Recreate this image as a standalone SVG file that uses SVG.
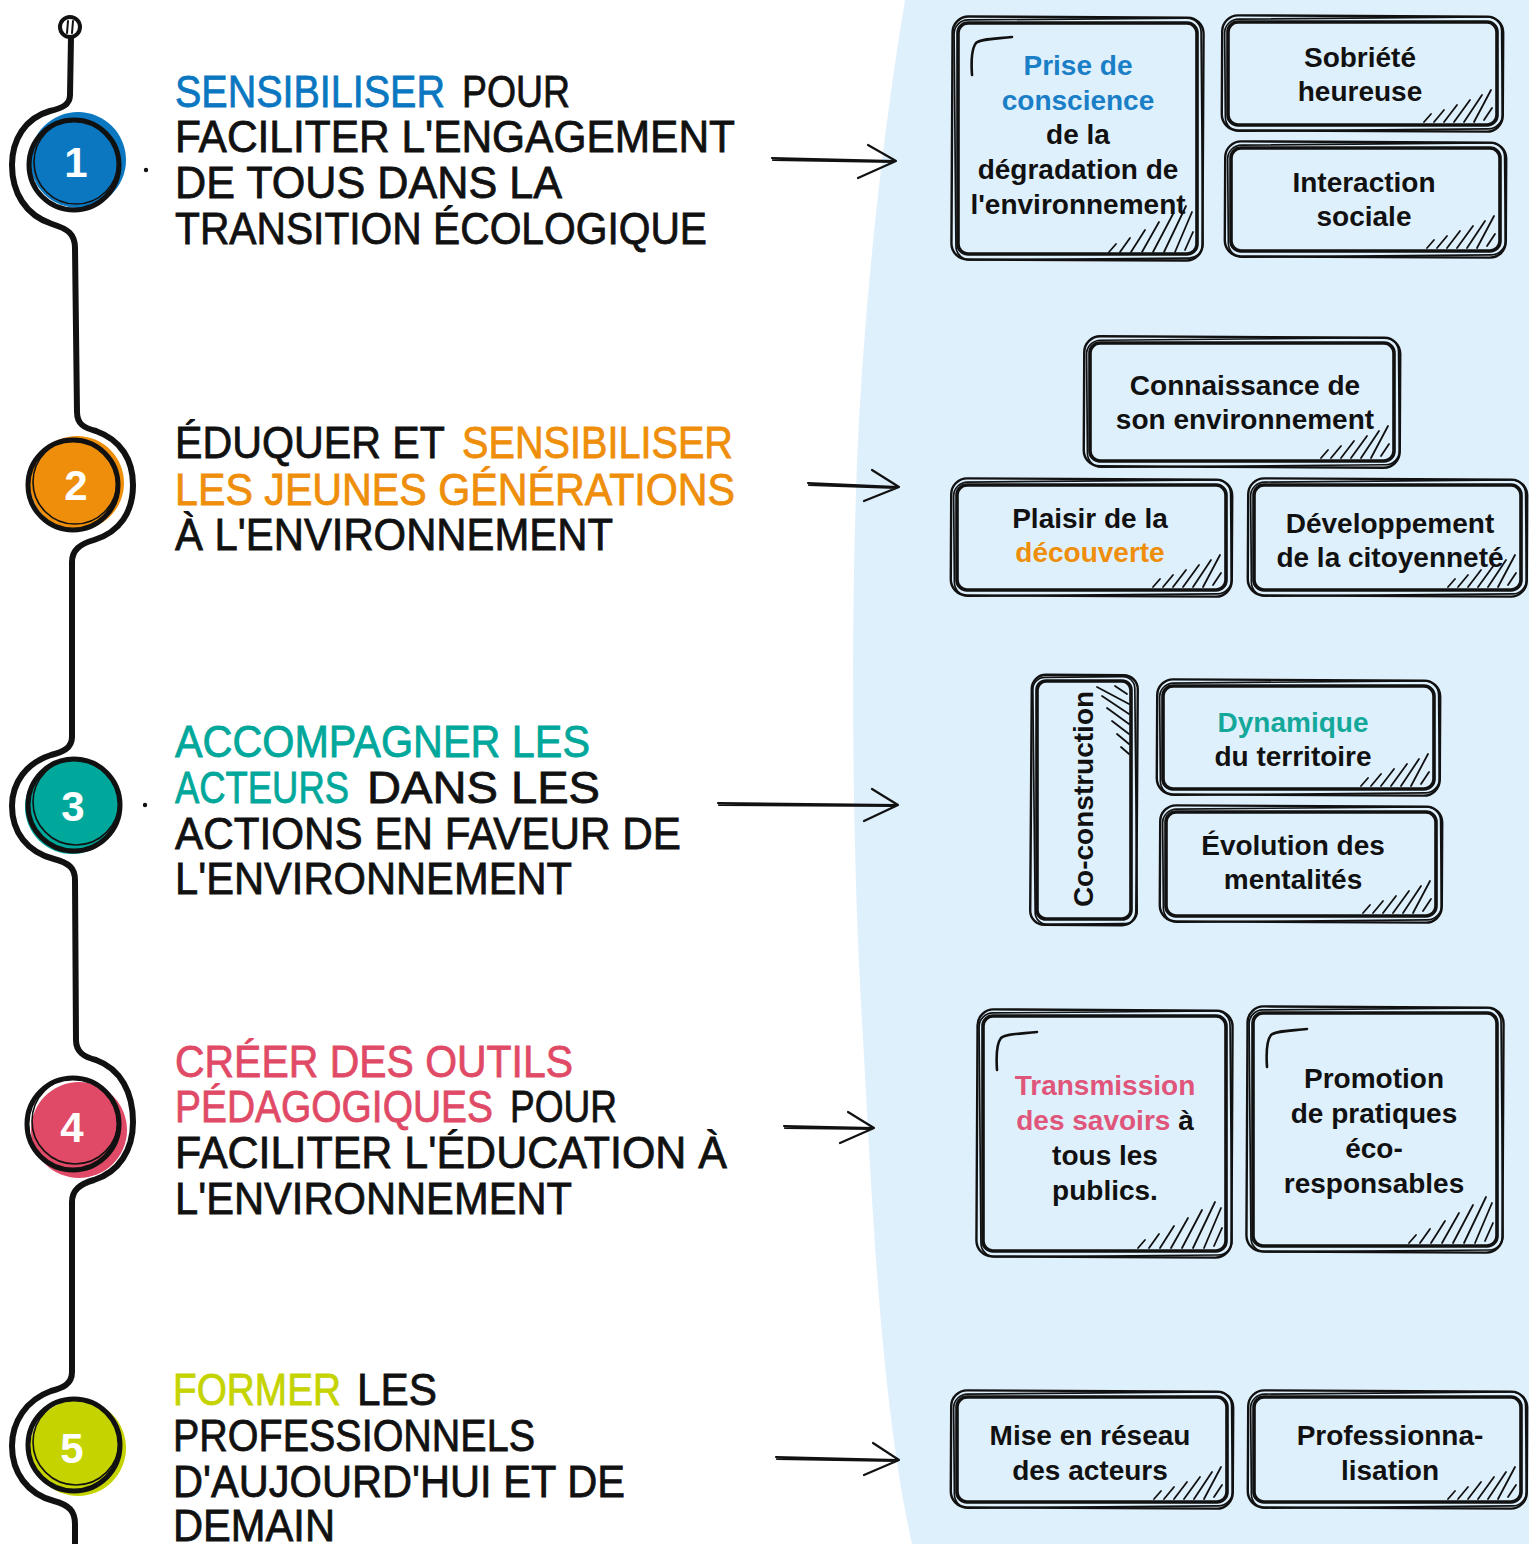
<svg xmlns="http://www.w3.org/2000/svg" width="1529" height="1544" viewBox="0 0 1529 1544">
<style>
.h{font-family:"Liberation Sans",Arial,sans-serif;font-size:40px;fill:#111;stroke:#111;stroke-width:0.7px;}
.cb{fill:#0A77C0;stroke:#0A77C0;}
.co{fill:#EE8E0A;stroke:#EE8E0A;}
.ct{fill:#00A79B;stroke:#00A79B;}
.cp{fill:#E04A66;stroke:#E04A66;}
.cl{fill:#C5D300;stroke:#C5D300;}
.t{font-family:"Liberation Sans",Arial,sans-serif;font-size:28px;font-weight:bold;fill:#111;text-anchor:middle;}
.n{font-family:"Liberation Sans",Arial,sans-serif;font-size:42px;font-weight:bold;fill:#fff;text-anchor:middle;}
.o{fill:none;stroke:#111;stroke-width:2.4;}
.o2{fill:none;stroke:#111;stroke-width:1.7;}
.i{fill:none;stroke:#111;stroke-width:3.6;}
.ha{fill:none;stroke:#111;stroke-width:1.8;stroke-linecap:round;}
.ar{fill:none;stroke:#111;stroke-width:2.2;stroke-linecap:round;stroke-linejoin:round;}
.ring{fill:none;stroke:#111;stroke-width:5;}
.ring2{fill:none;stroke:#111;stroke-width:1.6;}
.tl{fill:none;stroke:#111;stroke-width:2.6;stroke-linecap:round;}
</style>
<defs>
<path id="hs" class="ha" d="M-70 0 L-63 -8 M-60 0 L-50 -12 M-50 0 L-37 -17 M-40 0 L-24 -22 M-30 0 L-12 -27 M-20 0 L-3 -32 M-10 -2 L-2 -14"/>
<path id="ht" class="ha" d="M-85 0 L-78 -8 M-74 0 L-64 -14 M-63 0 L-49 -22 M-52 0 L-35 -30 M-41 0 L-21 -38 M-30 0 L-8 -46 M-19 0 L-2 -40 M-9 -2 L-1 -20"/>
<path id="br" class="tl" d="M0 45 C -1 30, 0 18, 4 13 C 8 9, 20 9, 40 7"/>
</defs>

<path id="background" d="M 905 0 C 885 120, 866 280, 858 440 C 850 620, 852 850, 862 1020 C 872 1200, 880 1400, 912 1544 L 1529 1544 L 1529 0 Z" fill="#DFF0FD"/>

<g id="timeline">
<path d="M 71 37 L 70 95 C 70 105, 62 108, 50 111 C 25 118, 12 140, 12 165 C 12 192, 25 215, 52 224 C 68 229, 75 234, 75 248 L 77 412 C 77 424, 84 428, 96 431 C 121 440, 133 460, 133 485 C 133 512, 120 532, 94 540 C 80 544, 72 550, 72 562 L 72 737 C 72 748, 63 752, 51 755 C 26 763, 12 783, 12 806 C 12 832, 27 852, 54 859 C 69 863, 75 868, 75 880 L 76 1040 C 76 1052, 84 1057, 96 1060 C 121 1069, 133 1093, 133 1122 C 133 1150, 119 1172, 94 1180 C 80 1184, 72 1190, 72 1202 L 72 1372 C 72 1384, 63 1388, 51 1391 C 26 1400, 12 1422, 12 1446 C 12 1472, 27 1494, 54 1501 C 69 1505, 75 1511, 75 1524 L 75 1550" fill="none" stroke="#111" stroke-width="6" stroke-linecap="round" stroke-linejoin="round"/>
<circle cx="70" cy="27" r="10" fill="#fff" stroke="#111" stroke-width="4"/>
<path d="M68 21 L67 33 M73 21 L72 33" stroke="#111" stroke-width="2" stroke-linecap="round"/>
<circle cx="146" cy="170" r="2.2" fill="#111"/>
<circle cx="145" cy="805" r="2.2" fill="#111"/>
</g>

<g id="step1">
<circle cx="78" cy="160" r="48" fill="#0A77C0"/>
<circle class="ring" cx="74" cy="165" r="45"/>
<circle class="ring2" cx="76" cy="162" r="42"/>
<text class="n" x="76" y="177">1</text>
<text class="h cb" x="175" y="107" transform="matrix(1 0 0 1.12 0 -12.84)" textLength="270" lengthAdjust="spacingAndGlyphs">SENSIBILISER</text>
<text class="h" x="462" y="107" transform="matrix(1 0 0 1.12 0 -12.84)" textLength="108" lengthAdjust="spacingAndGlyphs">POUR</text>
<text class="h" x="175" y="152" transform="matrix(1 0 0 1.12 0 -18.24)" textLength="560" lengthAdjust="spacingAndGlyphs">FACILITER L'ENGAGEMENT</text>
<text class="h" x="175" y="198" transform="matrix(1 0 0 1.12 0 -23.76)" textLength="387" lengthAdjust="spacingAndGlyphs">DE TOUS DANS LA</text>
<text class="h" x="175" y="244" transform="matrix(1 0 0 1.12 0 -29.28)" textLength="532" lengthAdjust="spacingAndGlyphs">TRANSITION ÉCOLOGIQUE</text>
</g>

<g id="step2">
<circle cx="77" cy="483" r="47" fill="#EE8E0A"/>
<circle class="ring" cx="73" cy="485" r="45"/>
<circle class="ring2" cx="75" cy="482" r="42"/>
<text class="n" x="76" y="500">2</text>
<text class="h" x="175" y="458" transform="matrix(1 0 0 1.12 0 -54.96)" textLength="270" lengthAdjust="spacingAndGlyphs">ÉDUQUER ET</text>
<text class="h co" x="462" y="458" transform="matrix(1 0 0 1.12 0 -54.96)" textLength="271" lengthAdjust="spacingAndGlyphs">SENSIBILISER</text>
<text class="h co" x="175" y="505" transform="matrix(1 0 0 1.12 0 -60.6)" textLength="560" lengthAdjust="spacingAndGlyphs">LES JEUNES GÉNÉRATIONS</text>
<text class="h" x="175" y="550" transform="matrix(1 0 0 1.12 0 -66)" textLength="438" lengthAdjust="spacingAndGlyphs">À L'ENVIRONNEMENT</text>
</g>

<g id="step3">
<circle cx="72" cy="807" r="47" fill="#00A79B"/>
<circle class="ring" cx="74" cy="805" r="46"/>
<circle class="ring2" cx="76" cy="802" r="43"/>
<text class="n" x="73" y="821">3</text>
<text class="h ct" x="175" y="757" transform="matrix(1 0 0 1.12 0 -90.84)" textLength="415" lengthAdjust="spacingAndGlyphs">ACCOMPAGNER LES</text>
<text class="h ct" x="175" y="803" transform="matrix(1 0 0 1.12 0 -96.36)" textLength="174" lengthAdjust="spacingAndGlyphs">ACTEURS</text>
<text class="h" x="367" y="803" transform="matrix(1 0 0 1.12 0 -96.36)" textLength="233" lengthAdjust="spacingAndGlyphs">DANS LES</text>
<text class="h" x="175" y="849" transform="matrix(1 0 0 1.12 0 -101.88)" textLength="506" lengthAdjust="spacingAndGlyphs">ACTIONS EN FAVEUR DE</text>
<text class="h" x="175" y="894" transform="matrix(1 0 0 1.12 0 -107.28)" textLength="397" lengthAdjust="spacingAndGlyphs">L'ENVIRONNEMENT</text>
</g>

<g id="step4">
<circle cx="79" cy="1130" r="48" fill="#E04A66"/>
<circle class="ring" cx="73" cy="1124" r="46"/>
<circle class="ring2" cx="75" cy="1121" r="43"/>
<text class="n" x="72" y="1142">4</text>
<text class="h cp" x="175" y="1077" transform="matrix(1 0 0 1.12 0 -129.24)" textLength="398" lengthAdjust="spacingAndGlyphs">CRÉER DES OUTILS</text>
<text class="h cp" x="175" y="1122" transform="matrix(1 0 0 1.12 0 -134.64)" textLength="318" lengthAdjust="spacingAndGlyphs">PÉDAGOGIQUES</text>
<text class="h" x="510" y="1122" transform="matrix(1 0 0 1.12 0 -134.64)" textLength="107" lengthAdjust="spacingAndGlyphs">POUR</text>
<text class="h" x="175" y="1168" transform="matrix(1 0 0 1.12 0 -140.16)" textLength="552" lengthAdjust="spacingAndGlyphs">FACILITER L'ÉDUCATION À</text>
<text class="h" x="175" y="1214" transform="matrix(1 0 0 1.12 0 -145.68)" textLength="397" lengthAdjust="spacingAndGlyphs">L'ENVIRONNEMENT</text>
</g>

<g id="step5">
<circle cx="78" cy="1448" r="48" fill="#C5D300"/>
<circle class="ring" cx="74" cy="1445" r="46"/>
<circle class="ring2" cx="76" cy="1442" r="43"/>
<text class="n" x="72" y="1463">5</text>
<text class="h cl" x="173" y="1405" transform="matrix(1 0 0 1.12 0 -168.6)" textLength="168" lengthAdjust="spacingAndGlyphs">FORMER</text>
<text class="h" x="357" y="1405" transform="matrix(1 0 0 1.12 0 -168.6)" textLength="80" lengthAdjust="spacingAndGlyphs">LES</text>
<text class="h" x="173" y="1451" transform="matrix(1 0 0 1.12 0 -174.12)" textLength="362" lengthAdjust="spacingAndGlyphs">PROFESSIONNELS</text>
<text class="h" x="173" y="1497" transform="matrix(1 0 0 1.12 0 -179.64)" textLength="452" lengthAdjust="spacingAndGlyphs">D'AUJOURD'HUI ET DE</text>
<text class="h" x="173" y="1541" transform="matrix(1 0 0 1.12 0 -184.92)" textLength="162" lengthAdjust="spacingAndGlyphs">DEMAIN</text>
</g>

<g id="connectors">
<path class="ar" d="M772 158 L895 161 M773 160 L893 162 M868 145 L896 161 L858 178"/>
<path class="ar" d="M808 483 L898 487 M809 485 L896 488 M872 470 L899 487 L864 501"/>
<path class="ar" d="M718 803 L897 805 M719 805 L895 806 M872 789 L898 805 L864 821"/>
<path class="ar" d="M784 1126 L873 1128 M785 1128 L871 1129 M848 1112 L874 1128 L840 1143"/>
<path class="ar" d="M776 1457 L898 1460 M777 1459 L896 1461 M873 1443 L899 1460 L864 1475"/>
</g>

<g id="box-prise">
<rect class="o" x="952" y="17" width="251" height="243" rx="16" transform="rotate(0.3 1077 138)"/>
<rect class="o2" x="955" y="19" width="247" height="240" rx="14" transform="rotate(-0.5 1077 138)"/>
<rect class="i" x="958" y="23" width="239" height="231" rx="10"/>
<use href="#ht" x="1194" y="252"/>
<use href="#br" x="972" y="30"/>
<text class="t" x="1078" y="75" style="fill:#1A7FC6">Prise de</text>
<text class="t" x="1078" y="110" style="fill:#1A7FC6">conscience</text>
<text class="t" x="1078" y="144">de la</text>
<text class="t" x="1078" y="179">dégradation de</text>
<text class="t" x="1078" y="214">l'environnement</text>
</g>

<g id="box-sobriete">
<rect class="o" x="1222" y="16" width="281" height="115" rx="16" transform="rotate(0.3 1362 73)"/>
<rect class="o2" x="1225" y="18" width="277" height="112" rx="14" transform="rotate(-0.5 1362 73)"/>
<rect class="i" x="1228" y="22" width="269" height="103" rx="10"/>
<use href="#hs" x="1494" y="122"/>
<text class="t" x="1360" y="67">Sobriété</text>
<text class="t" x="1360" y="101">heureuse</text>
</g>

<g id="box-interaction">
<rect class="o" x="1225" y="142" width="281" height="115" rx="16" transform="rotate(0.3 1365 199)"/>
<rect class="o2" x="1228" y="144" width="277" height="112" rx="14" transform="rotate(-0.5 1365 199)"/>
<rect class="i" x="1231" y="148" width="269" height="103" rx="10"/>
<use href="#hs" x="1497" y="248"/>
<text class="t" x="1364" y="192">Interaction</text>
<text class="t" x="1364" y="226">sociale</text>
</g>

<g id="box-connaissance">
<rect class="o" x="1084" y="337" width="316" height="130" rx="16" transform="rotate(0.3 1242 402)"/>
<rect class="o2" x="1087" y="339" width="312" height="127" rx="14" transform="rotate(-0.5 1242 402)"/>
<rect class="i" x="1090" y="343" width="304" height="118" rx="10"/>
<use href="#hs" x="1391" y="458"/>
<text class="t" x="1245" y="395">Connaissance de</text>
<text class="t" x="1245" y="429">son environnement</text>
</g>

<g id="box-plaisir">
<rect class="o" x="951" y="479" width="281" height="117" rx="16" transform="rotate(0.3 1091 537)"/>
<rect class="o2" x="954" y="481" width="277" height="114" rx="14" transform="rotate(-0.5 1091 537)"/>
<rect class="i" x="957" y="485" width="269" height="105" rx="10"/>
<use href="#hs" x="1223" y="587"/>
<text class="t" x="1090" y="528">Plaisir de la</text>
<text class="t" x="1090" y="562" style="fill:#EE8E0A">découverte</text>
</g>

<g id="box-developpement">
<rect class="o" x="1248" y="479" width="279" height="117" rx="16" transform="rotate(0.3 1388 537)"/>
<rect class="o2" x="1251" y="481" width="275" height="114" rx="14" transform="rotate(-0.5 1388 537)"/>
<rect class="i" x="1254" y="485" width="267" height="105" rx="10"/>
<use href="#hs" x="1518" y="587"/>
<text class="t" x="1390" y="533">Développement</text>
<text class="t" x="1390" y="567">de la citoyenneté</text>
</g>

<g id="box-coconstruction">
<rect class="o" x="1031" y="675" width="106" height="250" rx="14" transform="rotate(0.4 1084 800)"/>
<rect class="o2" x="1034" y="677" width="102" height="247" rx="12" transform="rotate(-0.6 1084 800)"/>
<rect class="i" x="1037" y="681" width="94" height="238" rx="9"/>
<use href="#hs" transform="translate(1129 684) rotate(-90)"/>
<text class="t" transform="translate(1083 799) rotate(-90)" x="0" y="10">Co-construction</text>
</g>

<g id="box-dynamique">
<rect class="o" x="1157" y="680" width="283" height="115" rx="16" transform="rotate(0.3 1298 737)"/>
<rect class="o2" x="1160" y="682" width="279" height="112" rx="14" transform="rotate(-0.5 1298 737)"/>
<rect class="i" x="1163" y="686" width="271" height="103" rx="10"/>
<use href="#hs" x="1431" y="786"/>
<text class="t" x="1293" y="732" style="fill:#13A89A">Dynamique</text>
<text class="t" x="1293" y="766">du territoire</text>
</g>

<g id="box-evolution">
<rect class="o" x="1160" y="806" width="282" height="116" rx="16" transform="rotate(0.3 1301 864)"/>
<rect class="o2" x="1163" y="808" width="278" height="113" rx="14" transform="rotate(-0.5 1301 864)"/>
<rect class="i" x="1166" y="812" width="270" height="104" rx="10"/>
<use href="#hs" x="1433" y="913"/>
<text class="t" x="1293" y="855">Évolution des</text>
<text class="t" x="1293" y="889">mentalités</text>
</g>

<g id="box-transmission">
<rect class="o" x="977" y="1010" width="255" height="247" rx="16" transform="rotate(0.3 1104 1133)"/>
<rect class="o2" x="980" y="1012" width="251" height="244" rx="14" transform="rotate(-0.5 1104 1133)"/>
<rect class="i" x="983" y="1016" width="243" height="235" rx="10"/>
<use href="#ht" x="1223" y="1248"/>
<use href="#br" x="997" y="1025"/>
<text class="t" x="1105" y="1095" style="fill:#E0557A">Transmission</text>
<text class="t" x="1105" y="1130"><tspan fill="#E0557A">des savoirs</tspan> à</text>
<text class="t" x="1105" y="1165">tous les</text>
<text class="t" x="1105" y="1200">publics.</text>
</g>

<g id="box-promotion">
<rect class="o" x="1247" y="1007" width="256" height="245" rx="16" transform="rotate(0.3 1375 1129)"/>
<rect class="o2" x="1250" y="1009" width="252" height="242" rx="14" transform="rotate(-0.5 1375 1129)"/>
<rect class="i" x="1253" y="1013" width="244" height="233" rx="10"/>
<use href="#ht" x="1494" y="1243"/>
<use href="#br" x="1267" y="1022"/>
<text class="t" x="1374" y="1088">Promotion</text>
<text class="t" x="1374" y="1123">de pratiques</text>
<text class="t" x="1374" y="1158">éco-</text>
<text class="t" x="1374" y="1193">responsables</text>
</g>

<g id="box-reseau">
<rect class="o" x="951" y="1391" width="282" height="117" rx="16" transform="rotate(0.3 1092 1449)"/>
<rect class="o2" x="954" y="1393" width="278" height="114" rx="14" transform="rotate(-0.5 1092 1449)"/>
<rect class="i" x="957" y="1397" width="270" height="105" rx="10"/>
<use href="#hs" x="1224" y="1499"/>
<text class="t" x="1090" y="1445">Mise en réseau</text>
<text class="t" x="1090" y="1480">des acteurs</text>
</g>

<g id="box-professionnalisation">
<rect class="o" x="1248" y="1391" width="279" height="117" rx="16" transform="rotate(0.3 1388 1449)"/>
<rect class="o2" x="1251" y="1393" width="275" height="114" rx="14" transform="rotate(-0.5 1388 1449)"/>
<rect class="i" x="1254" y="1397" width="267" height="105" rx="10"/>
<use href="#hs" x="1518" y="1499"/>
<text class="t" x="1390" y="1445">Professionna-</text>
<text class="t" x="1390" y="1480">lisation</text>
</g>
</svg>
